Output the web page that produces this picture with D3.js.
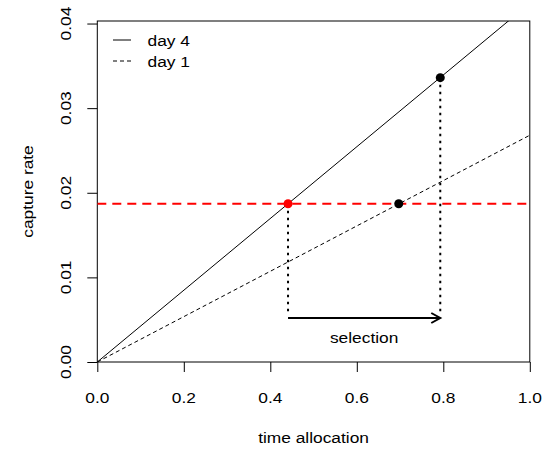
<!DOCTYPE html>
<html><head><meta charset="utf-8">
<script src="https://cdn.jsdelivr.net/npm/d3@7"></script>
<style>body{margin:0;background:#fff}svg{display:block}text{font-family:"Liberation Sans",Arial,sans-serif;fill:#000}</style>
</head><body>
<script>
// ---- data ----
const xTicks = [0, 0.2, 0.4, 0.6, 0.8, 1.0];
const xTickLabels = ["0.0", "0.2", "0.4", "0.6", "0.8", "1.0"];
const yTicks = [0, 0.01, 0.02, 0.03, 0.04];
const yTickLabels = ["0.00", "0.01", "0.02", "0.03", "0.04"];
const day4Line = [[0, 0], [1, 0.0424]];
const day1Line = [[0, 0], [1, 0.0268]];
const thresholdRate = 0.0187;
const redPoint = [0.441, 0.0187];
const blackPoints = [[0.697, 0.0187], [0.793, 0.0336]];
const selectionFrom = 0.441, selectionTo = 0.793, selectionY = 0.0052;
const legendLabels = ["day 4", "day 1"];

// ---- layout ----
const W = 548, H = 449;
const L = 97.3, R = 529.8, T = 21, B = 362;
const FS = 15.5, SX = 1.12;

const svg = d3.select("body").append("svg").attr("width", W).attr("height", H);
const x = d3.scaleLinear().domain([0, 1]).range([L, R]);
const y = d3.scaleLinear().domain([0, 0.0403]).range([B, T]);

svg.append("clipPath").attr("id", "clip").append("rect")
  .attr("x", L).attr("y", T).attr("width", R - L).attr("height", B - T);

function txt(px, py, s, rot, anchor) {
  svg.append("text")
    .attr("transform", `translate(${px},${py}) rotate(${rot || 0}) scale(${SX},1)`)
    .attr("text-anchor", anchor || "middle")
    .attr("font-size", FS).text(s);
}

// axes
const xAxis = svg.append("g").attr("transform", `translate(0,${B})`)
  .call(d3.axisBottom(x).tickValues(xTicks).tickSize(10).tickFormat(""));
const yAxis = svg.append("g").attr("transform", `translate(${L},0)`)
  .call(d3.axisLeft(y).tickValues(yTicks).tickSize(10).tickFormat(""));
[xAxis, yAxis].forEach(a => { a.select(".domain").remove(); a.selectAll("line").attr("stroke", "#000"); });
xTicks.forEach((v, i) => txt(x(v), 403, xTickLabels[i]));
yTicks.forEach((v, i) => txt(70.5, y(v), yTickLabels[i], -90));

// box
svg.append("rect").attr("x", L).attr("y", T).attr("width", R - L).attr("height", B - T)
  .attr("fill", "none").attr("stroke", "#000").attr("stroke-width", 1);

// titles
txt((L + R) / 2, 443, "time allocation");
txt(32.5, (T + B) / 2, "capture rate", -90);

const g = svg.append("g").attr("clip-path", "url(#clip)");
const line = d3.line().x(d => x(d[0])).y(d => y(d[1]));
g.append("path").datum(day4Line).attr("d", line).attr("fill", "none").attr("stroke", "#000").attr("stroke-width", 1);
g.append("path").datum(day1Line).attr("d", line).attr("fill", "none").attr("stroke", "#000").attr("stroke-width", 1).attr("stroke-dasharray", "4,3");

// red threshold
g.append("line").attr("x1", L).attr("x2", R).attr("y1", y(thresholdRate)).attr("y2", y(thresholdRate))
  .attr("stroke", "#ff0000").attr("stroke-width", 2).attr("stroke-dasharray", "9,6");

// vertical dotted lines
[redPoint, blackPoints[1]].forEach(p => {
  g.append("line").attr("x1", x(p[0])).attr("x2", x(p[0])).attr("y1", y(p[1])).attr("y2", y(selectionY) - 4)
    .attr("stroke", "#000").attr("stroke-width", 2).attr("stroke-dasharray", "2.5,4.5");
});

// arrow
const ay = y(selectionY), ax2 = x(selectionTo);
g.append("line").attr("x1", x(selectionFrom)).attr("x2", ax2).attr("y1", ay).attr("y2", ay)
  .attr("stroke", "#000").attr("stroke-width", 2);
g.append("path").attr("d", `M${ax2 - 9},${ay - 5} L${ax2},${ay} L${ax2 - 9},${ay + 5}`)
  .attr("fill", "none").attr("stroke", "#000").attr("stroke-width", 2);
txt(x((selectionFrom + selectionTo) / 2), 343, "selection");

// points
g.append("circle").attr("cx", x(redPoint[0])).attr("cy", y(redPoint[1])).attr("r", 4.5).attr("fill", "#ff0000");
g.selectAll(".bp").data(blackPoints).enter().append("circle")
  .attr("cx", d => x(d[0])).attr("cy", d => y(d[1])).attr("r", 4.5).attr("fill", "#000");

// legend
const legY = [40, 61];
legendLabels.forEach((s, i) => {
  svg.append("line").attr("x1", 113).attr("x2", 131).attr("y1", legY[i]).attr("y2", legY[i])
    .attr("stroke", "#000").attr("stroke-width", 1).attr("stroke-dasharray", i === 1 ? "4,3" : null);
  txt(147.5, legY[i] + 6, s, 0, "start");
});
</script>
</body></html>
